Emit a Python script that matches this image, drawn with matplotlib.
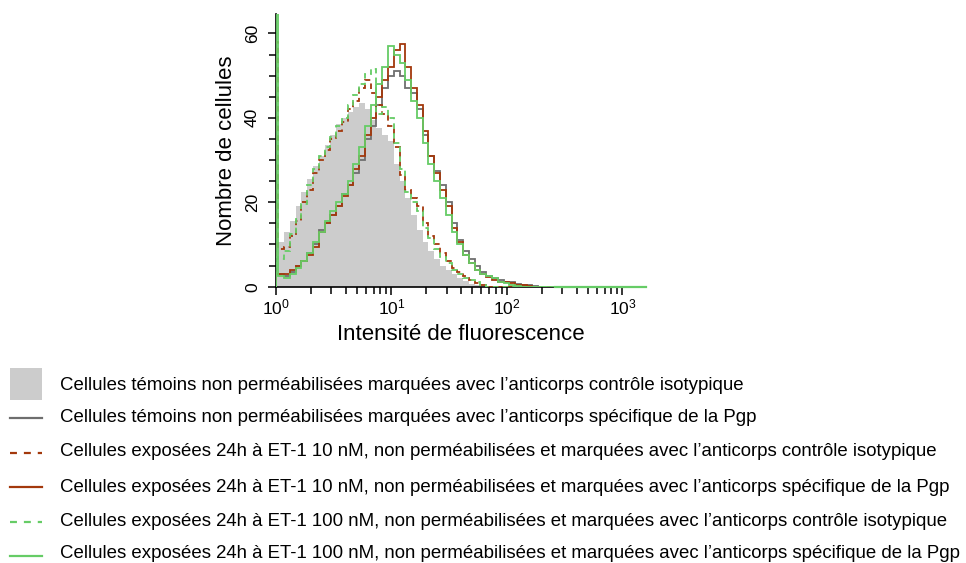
import numpy as np
import matplotlib
matplotlib.use("Agg")
import matplotlib.pyplot as plt
from matplotlib.patches import Rectangle
from matplotlib.ticker import LogLocator, MultipleLocator, LogFormatterSciNotation

plt.rcParams["font.family"] = ["Liberation Sans", "DejaVu Sans"]
plt.rcParams["lines.scale_dashes"] = False

# log10 of intensity: one narrow first channel (pile-up) then bins of 0.05 decade
first_edge = 0.02
bin_step = 0.05
n_bins = 48

# counts per bin (first value = first channel pile-up)
iso_control = [20.5, 10.5, 13, 15.5, 19, 22.5, 25.5, 28.5, 31, 33.5, 36, 38.5, 40, 41.5,
               42.5, 43.5, 42, 39.5, 37.5, 36, 34.5, 29, 25, 21, 17, 13.5, 10.5, 8.5, 6.5,
               5, 4, 3, 2, 1.3, 0.7, 0.3, 0, 0, 0, 0, 0, 0, 0, 0, 0, 0, 0, 0, 0]
pgp_control = [3, 3, 2.5, 3.5, 5, 6, 8, 10, 13.5, 15, 17, 19, 22, 24, 27, 30, 35, 38, 43,
               47, 50, 51, 50, 47, 46, 42, 36, 31, 27.5, 24, 20, 15, 11, 8.5, 6.5, 5, 3.5,
               2.5, 2, 1.5, 1.2, 1, 0.6, 0.5, 0.3, 0.1, 0, 0, 0]
iso_et10 = [58, 9, 9.5, 12, 15.5, 20, 23, 27, 30, 32.5, 35, 37, 39, 42, 44, 47, 49, 46, 43,
            41, 38, 33, 26.5, 23, 21, 19, 15, 12, 10, 8, 6, 4.5, 3.5, 2.5, 1.5, 0.8, 0.3,
            0, 0, 0, 0, 0, 0, 0, 0, 0, 0, 0, 0]
pgp_et10 = [3, 3, 3, 4, 5, 6, 7.5, 9.5, 13, 15, 17, 19, 21.5, 24, 28, 31, 36, 40, 45, 49,
            52, 56, 57.5, 52, 47, 43, 37, 31, 27, 23, 19, 14, 10.5, 7.5, 5.5, 4, 3, 2.2,
            1.5, 1.2, 1, 0.8, 0.5, 0.3, 0.2, 0, 0, 0, 0]
iso_et100 = [7, 6.5, 8.5, 12.5, 16, 19.5, 24, 28, 31, 33, 35.5, 38, 40, 43, 45.5, 48, 50.5,
             51.5, 41, 42.5, 40, 34, 28, 22.5, 20, 18, 14, 11.5, 9, 7, 5.5, 4, 3, 2, 1.5,
             1, 0.4, 0, 0, 0, 0, 0, 0, 0, 0, 0, 0, 0, 0]
pgp_et100 = [70, 2.5, 2, 3, 4.5, 6, 8, 10.5, 13, 15.5, 18, 20, 22, 25, 29, 33, 38, 43, 48,
             52, 57, 55, 53, 49, 44, 40, 34, 29, 25, 21, 17, 13, 10, 7.5, 5.5, 4, 3, 2.5,
             2, 1.2, 0.8, 0.4, 0.2, 0, 0, 0, 0, 0, 0]

labels = [
    "Cellules témoins non perméabilisées marquées avec l’anticorps contrôle isotypique",
    "Cellules témoins non perméabilisées marquées avec l’anticorps spécifique de la Pgp",
    "Cellules exposées 24h à ET-1 10 nM, non perméabilisées et marquées avec l’anticorps contrôle isotypique",
    "Cellules exposées 24h à ET-1 10 nM, non perméabilisées et marquées avec l’anticorps spécifique de la Pgp",
    "Cellules exposées 24h à ET-1 100 nM, non perméabilisées et marquées avec l’anticorps contrôle isotypique",
    "Cellules exposées 24h à ET-1 100 nM, non perméabilisées et marquées avec l’anticorps spécifique de la Pgp",
]

GRAY_FILL = "#cccccc"
GRAY_LINE = "#6e6e6e"
BROWN = "#a3380c"
GREEN = "#66cc66"
PLOT_DASH = (0, (4, 3))
LEG_DASH = (0, (5, 5))

log_edges = np.concatenate([[0.0], first_edge + bin_step * np.arange(n_bins + 1)])
edges = 10 ** log_edges

fig = plt.figure(figsize=(9.66, 5.63), dpi=100)
W, H = 966, 563
ax = fig.add_axes([276 / W, 1 - 286.7 / H, (645 - 276) / W, (286.7 - 14) / H])

ax.stairs(iso_control, edges, fill=True, color=GRAY_FILL, zorder=1)
series = [
    (pgp_control, GRAY_LINE, False),
    (iso_et10, BROWN, True),
    (pgp_et10, BROWN, False),
    (iso_et100, GREEN, True),
    (pgp_et100, GREEN, False),
]
for vals, col, dashed in series:
    ax.stairs(vals, edges, color=col, linestyle=PLOT_DASH if dashed else "-",
              linewidth=1.3, zorder=3)

# flat zero line to the right end of the axis
ax.plot([edges[-1], 1600], [0, 0], color=GREEN, linewidth=1.6, zorder=3, clip_on=False)

ax.set_xscale("log")
ax.set_xlim(1, 10 ** 3.195)
ax.set_ylim(0, 64.6)
ax.xaxis.set_major_locator(LogLocator(base=10, numticks=10))
ax.xaxis.set_minor_locator(LogLocator(base=10, subs=np.arange(2, 10), numticks=20))
ax.xaxis.set_major_formatter(LogFormatterSciNotation())
ax.yaxis.set_major_locator(MultipleLocator(20))
ax.yaxis.set_minor_locator(MultipleLocator(5))

for s in ["top", "right"]:
    ax.spines[s].set_visible(False)
for s in ["left", "bottom"]:
    ax.spines[s].set_linewidth(1.2)

ax.tick_params(which="major", direction="out", length=5.5, width=1.1, labelsize=12.5)
ax.tick_params(axis="y", which="major", pad=6)
ax.tick_params(axis="x", which="major", pad=2)
ax.tick_params(which="minor", direction="out", length=5, width=1.1)
for lab in ax.get_yticklabels():
    lab.set_rotation(90)
    lab.set_va("center")

ax.set_ylabel("Nombre de cellules", fontsize=16, labelpad=6)
ax.set_xlabel("Intensité de fluorescence", fontsize=16, labelpad=5)

# legend drawn in pixel coordinates under the plot
leg = fig.add_axes([0, 0, 1, 1])
leg.set_xlim(0, W)
leg.set_ylim(H, 0)
leg.axis("off")
leg.add_patch(Rectangle((10, 368), 32, 32, color=GRAY_FILL, lw=0))
handle_rows = [418, 452.7, 486.7, 521.7, 555.7]
for (vals, col, dashed), y in zip(series, handle_rows):
    leg.plot([10, 42], [y, y], color=col, linestyle=LEG_DASH if dashed else "-",
             linewidth=1.6)
text_rows = [386, 418, 451, 488, 521, 553]
for lab, y in zip(labels, text_rows):
    leg.text(60, y, lab, fontsize=13.45, va="center", ha="left")

fig.savefig("out.png", dpi=100)
